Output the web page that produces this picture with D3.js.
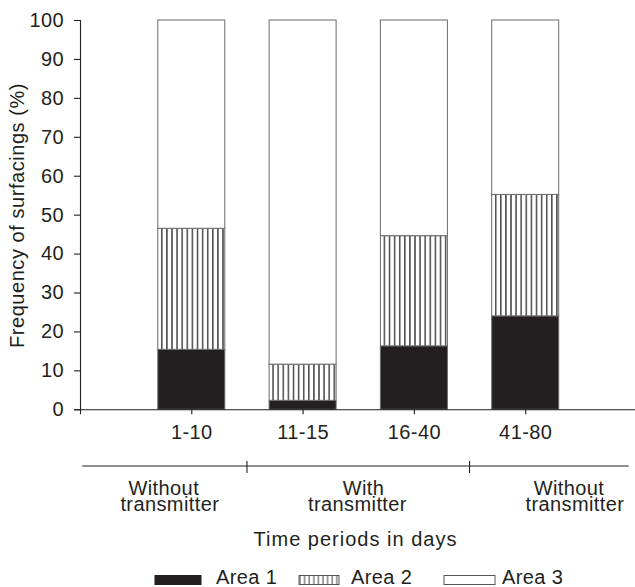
<!DOCTYPE html>
<html>
<head>
<meta charset="utf-8">
<script src="https://cdn.jsdelivr.net/npm/d3@7"></script>
<style>
  body { margin: 0; background: #fff; }
  svg { display: block; font-family: "Liberation Sans", Arial, sans-serif; }
  text { fill: #231f20; }
</style>
</head>
<body>
<svg width="635" height="587"></svg>
<script>
// Data (percent of surfacings per period)
const categories = ["1-10", "11-15", "16-40", "41-80"];
const area1 = [15.4, 2.3, 16.3, 24.0];
const area2 = [31.1, 9.3, 28.3, 31.2];
const area3 = [53.5, 88.4, 55.4, 44.8];
const seriesNames = ["Area 1", "Area 2", "Area 3"];
const yTicks = [0, 10, 20, 30, 40, 50, 60, 70, 80, 90, 100];
const groupLabels = [["Without", "transmitter"], ["With", "transmitter"], ["Without", "transmitter"]];

const ink = "#231f20";
const fontSize = "20px";
const svg = d3.select("svg");

// Scales
const x = d3.scalePoint()
    .domain(categories)
    .range([80, 636.5])
    .padding(1);
const step = x.step();
const y = d3.scaleLinear()
    .domain([0, 100])
    .range([409.3, 20]);
const barWidth = 67;

// Stack the three areas
const table = categories.map((c, i) => ({cat: c, a1: area1[i], a2: area2[i], a3: area3[i]}));
const stacked = d3.stack().keys(["a1", "a2", "a3"])(table);

// Hatch patterns for Area 2, one per bar so lines start at the bar edge
const defs = svg.append("defs");
categories.forEach((c, i) => {
  const p = defs.append("pattern")
      .attr("id", `hatch-${i}`)
      .attr("patternUnits", "userSpaceOnUse")
      .attr("x", x(c) - barWidth / 2 + 1.5)
      .attr("y", 0)
      .attr("width", 5.1)
      .attr("height", 10);
  p.append("rect").attr("width", 5.1).attr("height", 10).attr("fill", "#fff");
  p.append("line")
      .attr("x1", 2.5).attr("x2", 2.5)
      .attr("y1", 0).attr("y2", 10)
      .attr("stroke", "#2a2a2a")
      .attr("stroke-width", 1.3);
});
const lp = defs.append("pattern")
    .attr("id", "hatch-legend")
    .attr("patternUnits", "userSpaceOnUse")
    .attr("x", 299)
    .attr("width", 4.6)
    .attr("height", 10);
lp.append("rect").attr("width", 4.6).attr("height", 10).attr("fill", "#fff");
lp.append("line")
    .attr("x1", 1).attr("x2", 1)
    .attr("y1", 0).attr("y2", 10)
    .attr("stroke", "#444")
    .attr("stroke-width", 1);

function fillFor(key, i) {
  if (key === "a1") return ink;
  if (key === "a2") return `url(#hatch-${i})`;
  return "#fff";
}

// Bars
svg.append("g")
  .selectAll("g")
  .data(stacked)
  .enter()
  .append("g")
  .each(function(layer) {
    d3.select(this).selectAll("rect")
        .data(layer)
        .enter()
        .append("rect")
        .attr("x", d => x(d.data.cat) - barWidth / 2)
        .attr("width", barWidth)
        .attr("y", d => y(d[1]))
        .attr("height", d => y(d[0]) - y(d[1]))
        .attr("fill", (d, i) => fillFor(layer.key, i))
        .attr("stroke", "#6a6a6a")
        .attr("stroke-width", 1);
  });

// Y axis
const yAxis = svg.append("g")
    .attr("transform", "translate(80,0)")
    .call(d3.axisLeft(y).tickValues(yTicks).tickSize(6).tickSizeOuter(6).tickPadding(10));

// X axis
const xAxis = svg.append("g")
    .attr("transform", `translate(0,${y(0)})`)
    .call(d3.axisBottom(x).tickSize(5).tickSizeOuter(5).tickPadding(11));

[yAxis, xAxis].forEach(ax => {
  ax.attr("font-family", null).attr("font-size", null);
  ax.selectAll("path, line").attr("stroke", ink).attr("stroke-width", 1.1);
  ax.selectAll("text")
      .attr("fill", ink)
      .style("font-size", fontSize)
      .style("letter-spacing", "0.4px");
});
xAxis.selectAll("text").attr("dy", "0.68em");

// Y axis title
svg.append("text")
    .attr("transform", "translate(24,215.5) rotate(-90)")
    .attr("text-anchor", "middle")
    .style("font-size", fontSize)
    .style("letter-spacing", "0.55px")
    .text("Frequency of surfacings (%)");

// Group bracket line with transmitter periods
const gx = d3.scaleLinear().domain([0, 5]).range([80, 80 + 5 * step]);
const groupY = 466;
const bounds = [1.5, 3.5];
svg.append("line")
    .attr("x1", gx(0.02)).attr("x2", gx(4.93))
    .attr("y1", groupY).attr("y2", groupY)
    .attr("stroke", ink).attr("stroke-width", 1.1);
svg.selectAll("groupTicks")
    .data(bounds)
    .enter()
    .append("line")
    .attr("x1", d => gx(d)).attr("x2", d => gx(d))
    .attr("y1", groupY - 5).attr("y2", groupY + 7)
    .attr("stroke", ink).attr("stroke-width", 1.1);

// Two-line group labels, set tight as in the original
const labelCenters = [0.78, 2.52, 4.42];
groupLabels.forEach((lines, i) => {
  const t = svg.append("text")
      .attr("y", 495)
      .attr("text-anchor", "middle")
      .style("font-size", fontSize)
      .style("letter-spacing", "0.4px");
  lines.forEach((s, j) => {
    t.append("tspan")
        .attr("x", gx(labelCenters[i]) + (j === 0 ? -3 : 3) * (i === 1 ? -1 : 1))
        .attr("dy", j === 0 ? 0 : 16)
        .text(s);
  });
});

// X axis title
svg.append("text")
    .attr("x", 355.5)
    .attr("y", 546)
    .attr("text-anchor", "middle")
    .style("font-size", fontSize)
    .style("letter-spacing", "1px")
    .text("Time periods in days");

// Legend
const legendX = [155, 299, 444];
const swatchW = [46, 40, 51];
const legendFill = [ink, "url(#hatch-legend)", "#fff"];
const legend = svg.append("g");
seriesNames.forEach((name, i) => {
  legend.append("rect")
      .attr("x", legendX[i])
      .attr("y", 575.5)
      .attr("width", swatchW[i])
      .attr("height", 9)
      .attr("fill", legendFill[i])
      .attr("stroke", i === 0 ? ink : "#555")
      .attr("stroke-width", 1);
  legend.append("text")
      .attr("x", legendX[i] + swatchW[i] + [15, 12, 7][i])
      .attr("y", 584)
      .style("font-size", fontSize)
      .style("letter-spacing", "0.4px")
      .text(name);
});
</script>
</body>
</html>
